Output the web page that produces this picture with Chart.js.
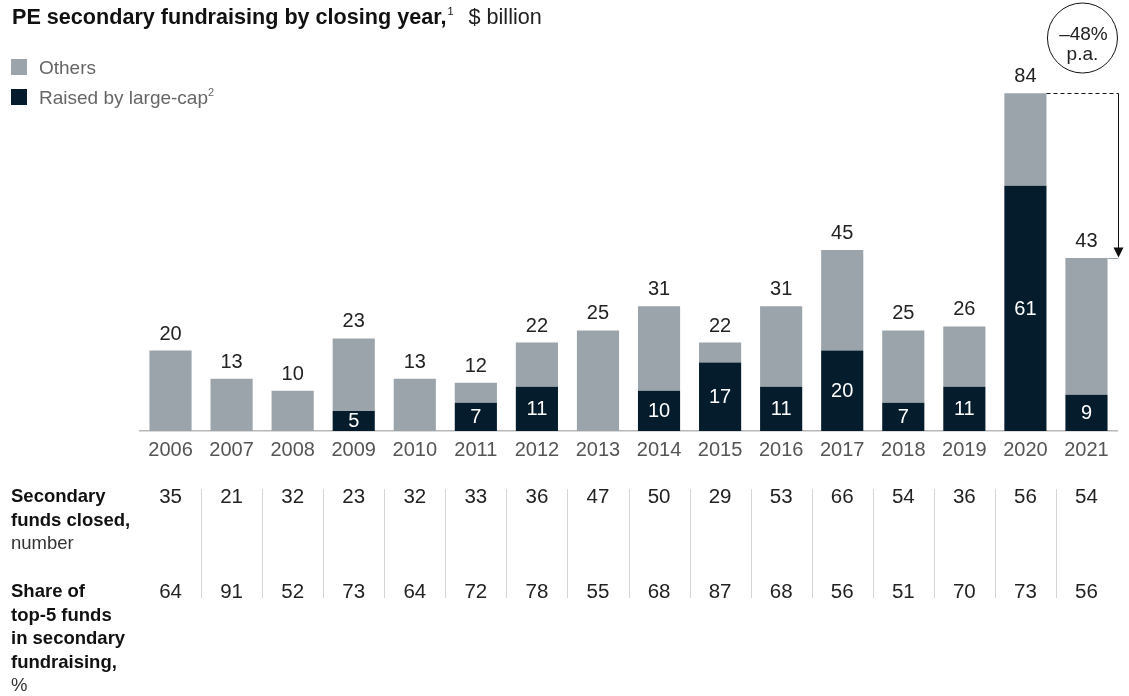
<!DOCTYPE html>
<html>
<head>
<meta charset="utf-8">
<script src="https://cdn.jsdelivr.net/npm/chart.js@4.4.0/dist/chart.umd.min.js"></script>
<style>
  body { margin: 0; background: #fff; font-family: "Liberation Sans", Arial, sans-serif; }
  #wrap { position: relative; width: 1129px; height: 696px; overflow: hidden; }
  #chart { position: absolute; left: 0; top: 0; }
  .title { position: absolute; left: 12px; top: 6px; font-size: 21.6px; line-height: 22px; font-weight: bold; color: #111; white-space: nowrap; }
  .title span { font-weight: normal; color: #222; }
  .title sup { font-size: 11px; font-weight: normal; vertical-align: 9px; line-height: 0; margin: 0 15px 0 1px; }
  .swatch { position: absolute; left: 11px; width: 16px; height: 16px; }
  .legend { position: absolute; left: 39px; font-size: 19px; line-height: 19px; color: #666; white-space: nowrap; }
  .legend sup { font-size: 11px; vertical-align: 8px; line-height: 0; }
  .rowhead { position: absolute; left: 11px; font-size: 18.5px; line-height: 23.5px; color: #111; white-space: nowrap; }
  .rowhead b { display: block; }
  .rowhead span { color: #333; }
</style>
</head>
<body>
<div id="wrap">
  <canvas id="chart" width="1129" height="696"></canvas>
  <div class="title">PE secondary fundraising by closing year,<sup>1</sup><span>$ billion</span></div>
  <div class="swatch" style="top:59px;background:#9aa4aa"></div>
  <div class="legend" style="top:58px">Others</div>
  <div class="swatch" style="top:89px;background:#051c2c"></div>
  <div class="legend" style="top:88px">Raised by large-cap<sup>2</sup></div>
  <div class="rowhead" style="top:484px"><b>Secondary</b><b>funds closed,</b><span>number</span></div>
  <div class="rowhead" style="top:579px"><b>Share of</b><b>top-5 funds</b><b>in secondary</b><b>fundraising,</b><span>%</span></div>
</div>
<script>
// Valores em US$ bilhões
const years = ["2006", "2007", "2008", "2009", "2010", "2011", "2012", "2013", "2014", "2015", "2016", "2017", "2018", "2019", "2020", "2021"];
const totals = [20, 13, 10, 23, 13, 12, 22, 25, 31, 22, 31, 45, 25, 26, 84, 43];
const largeCap = [0, 0, 0, 5, 0, 7, 11, 0, 10, 17, 11, 20, 7, 11, 61, 9];
const fundsClosed = [35, 21, 32, 23, 32, 33, 36, 47, 50, 29, 53, 66, 54, 36, 56, 54];
const top5Share = [64, 91, 52, 73, 64, 72, 78, 55, 68, 87, 68, 56, 51, 70, 73, 56];
const changeLabel = ["\u201348%", "p.a."];

const others = totals.map((t, i) => t - largeCap[i]);

const GREY = "#9aa4aa";
const NAVY = "#051c2c";
const FONT = "'Liberation Sans', Arial, sans-serif";

// Rótulos: total acima da barra, large-cap dentro do segmento escuro
const labelsPlugin = {
	id: "labels",
	afterDatasetsDraw(chart) {
		const ctx = chart.ctx;
		const x = chart.scales.x;
		const y = chart.scales.y;
		ctx.save();
		ctx.font = "20px " + FONT;
		ctx.textAlign = "center";
		years.forEach((yr, i) => {
			const cx = x.getPixelForValue(i);
			ctx.fillStyle = "#222";
			ctx.textBaseline = "alphabetic";
			ctx.fillText(String(totals[i]), cx, y.getPixelForValue(totals[i]) - 11);
			if (largeCap[i] > 0) {
				const mid = (y.getPixelForValue(0) + y.getPixelForValue(largeCap[i])) / 2;
				ctx.fillStyle = "#fff";
				ctx.textBaseline = "middle";
				ctx.fillText(String(largeCap[i]), cx, mid + 1);
			}
		});
		ctx.restore();
	},
};

// Tabela abaixo do gráfico
const tablePlugin = {
	id: "table",
	afterDraw(chart) {
		const ctx = chart.ctx;
		const x = chart.scales.x;
		const step = x.getPixelForValue(1) - x.getPixelForValue(0);
		ctx.save();
		ctx.strokeStyle = "#d4d4d4";
		ctx.lineWidth = 1;
		for (let i = 0; i < years.length - 1; i++) {
			const sx = Math.round(x.getPixelForValue(i) + step / 2) + 0.5;
			ctx.beginPath();
			ctx.moveTo(sx, 489);
			ctx.lineTo(sx, 598);
			ctx.stroke();
		}
		ctx.font = "20.5px " + FONT;
		ctx.fillStyle = "#222";
		ctx.textAlign = "center";
		ctx.textBaseline = "alphabetic";
		years.forEach((yr, i) => {
			const cx = x.getPixelForValue(i);
			ctx.fillText(String(fundsClosed[i]), cx, 503);
			ctx.fillText(String(top5Share[i]), cx, 598);
		});
		ctx.restore();
	},
};

// Queda 2020 -> 2021
const changePlugin = {
	id: "change",
	afterDraw(chart) {
		const ctx = chart.ctx;
		const bars = chart.getDatasetMeta(1).data;
		const b20 = bars[14];
		const b21 = bars[15];
		const yTop20 = Math.round(chart.scales.y.getPixelForValue(totals[14])) + 0.5;
		const yTop21 = Math.round(chart.scales.y.getPixelForValue(totals[15])) + 0.5;
		const right = Math.round(b21.x + b21.width / 2 + 10) + 0.5;
		ctx.save();
		ctx.strokeStyle = "#111";
		ctx.lineWidth = 1;
		ctx.setLineDash([4, 3]);
		ctx.beginPath();
		ctx.moveTo(b20.x + b20.width / 2, yTop20);
		ctx.lineTo(right, yTop20);
		ctx.stroke();
		ctx.setLineDash([]);
		ctx.beginPath();
		ctx.moveTo(right, yTop20);
		ctx.lineTo(right, yTop21 - 10);
		ctx.stroke();
		ctx.strokeStyle = GREY;
		ctx.beginPath();
		ctx.moveTo(b21.x + b21.width / 2, yTop21);
		ctx.lineTo(right, yTop21);
		ctx.stroke();
		ctx.fillStyle = "#111";
		ctx.beginPath();
		ctx.moveTo(right - 5, yTop21 - 11);
		ctx.lineTo(right + 5, yTop21 - 11);
		ctx.lineTo(right, yTop21 - 1);
		ctx.closePath();
		ctx.fill();
		// círculo
		const cx = b21.x - 4;
		ctx.strokeStyle = "#111";
		ctx.beginPath();
		ctx.arc(cx, 38, 35, 0, Math.PI * 2);
		ctx.stroke();
		ctx.font = "19px " + FONT;
		ctx.fillStyle = "#222";
		ctx.textAlign = "center";
		ctx.textBaseline = "alphabetic";
		ctx.fillText(changeLabel[0], cx + 1, 40);
		ctx.fillText(changeLabel[1], cx, 60);
		ctx.restore();
	},
};

new Chart(document.getElementById("chart"), {
	type: "bar",
	data: {
		labels: years,
		datasets: [
			{ label: "Raised by large-cap", data: largeCap, backgroundColor: NAVY },
			{ label: "Others", data: others, backgroundColor: GREY },
		],
	},
	options: {
		responsive: false,
		animation: false,
		devicePixelRatio: 1,
		categoryPercentage: 1,
		barPercentage: 0.69,
		layout: { padding: { top: 69, left: 140, right: 12, bottom: 0 } },
		plugins: { legend: { display: false }, tooltip: { enabled: false } },
		scales: {
			x: {
				stacked: true,
				grid: { display: false, drawTicks: false },
				border: { display: true, color: "#b8b8b8", width: 1.5 },
				ticks: { color: "#555", font: { family: FONT, size: 20 }, padding: 7, maxRotation: 0, autoSkip: false },
				afterFit: (scale) => { scale.height = 265; },
			},
			y: { stacked: true, display: false, min: 0, max: 90 },
		},
	},
	plugins: [labelsPlugin, tablePlugin, changePlugin],
});
</script>
</body>
</html>
